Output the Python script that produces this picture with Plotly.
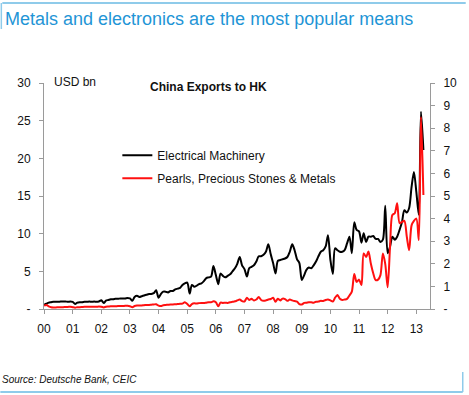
import pandas as pd
import plotly.graph_objects as go

# ---- data (monthly, Jan 2000 - Apr 2013) ----
months = pd.date_range("2000-01-01", periods=160, freq="MS")

electrical_machinery = [  # USD bn, left axis
    0.55, 0.7, 0.85, 0.9, 0.95, 0.95, 0.95, 1.0, 1.0, 1.0, 0.95, 1.0,      # 2000
    0.95, 0.66, 0.85, 0.9, 0.9, 0.95, 0.95, 1.0, 0.95, 1.0, 0.95, 1.0,     # 2001
    1.15, 0.8, 1.1, 1.2, 1.3, 1.3, 1.35, 1.35, 1.4, 1.4, 1.4, 1.45,        # 2002
    1.4, 1.1, 1.6, 1.75, 1.6, 1.7, 1.8, 1.9, 2.0, 2.0, 2.1, 2.5,           # 2003
    1.5, 2.0, 2.3, 2.3, 2.2, 2.4, 2.4, 2.6, 2.7, 2.8, 3.2, 3.4,            # 2004
    3.5, 2.05, 3.2, 2.95, 3.1, 3.3, 3.4, 3.7, 4.1, 4.2, 4.3, 5.7,          # 2005
    4.5, 3.3, 4.7, 4.4, 4.2, 4.4, 4.6, 5.0, 5.4, 6.0, 6.9, 5.8,            # 2006
    5.3, 4.3, 5.4, 5.6, 5.8, 6.3, 7.0, 7.0, 7.2, 7.6, 8.6, 7.3,            # 2007
    6.1, 4.7, 6.4, 6.5, 6.6, 6.7, 6.9, 7.6, 8.6, 7.8, 6.6, 6.1,            # 2008
    3.85, 4.5, 5.2, 5.5, 5.4, 5.8, 6.3, 7.0, 7.6, 7.8, 8.3, 9.8,           # 2009
    6.5, 4.65, 8.05, 7.8, 7.6, 7.6, 7.8, 8.7, 9.6, 7.4, 11.5, 10.5,        # 2010
    10.3, 8.8, 10.05, 8.9, 9.6, 9.6, 9.7, 9.3, 9.3, 8.9, 9.2, 13.7,        # 2011
    7.4, 8.3, 9.6, 9.2, 9.6, 10.5, 11.5, 13.1, 12.8, 13.4, 16.2, 18.2,     # 2012
    15.5, 12.5, 26.2, 21.1,                                                # 2013
]

pearls_stones_metals = [  # USD bn, right axis
    0.15, 0.18, 0.12, 0.08, 0.07, 0.07, 0.08, 0.08, 0.08, 0.09, 0.09, 0.1,   # 2000
    0.08, 0.06, 0.08, 0.08, 0.09, 0.1, 0.1, 0.1, 0.1, 0.1, 0.1, 0.11,        # 2001
    0.1, 0.07, 0.1, 0.11, 0.12, 0.12, 0.12, 0.13, 0.13, 0.13, 0.14, 0.14,    # 2002
    0.12, 0.08, 0.13, 0.15, 0.15, 0.16, 0.17, 0.18, 0.18, 0.19, 0.2, 0.21,   # 2003
    0.15, 0.13, 0.17, 0.18, 0.19, 0.2, 0.2, 0.21, 0.22, 0.23, 0.24, 0.3,     # 2004
    0.22, 0.12, 0.22, 0.25, 0.24, 0.26, 0.27, 0.26, 0.28, 0.3, 0.3, 0.34,    # 2005
    0.3, 0.12, 0.28, 0.27, 0.28, 0.27, 0.3, 0.32, 0.34, 0.38, 0.42, 0.35,    # 2006
    0.33, 0.5, 0.4, 0.45, 0.38, 0.42, 0.53, 0.4, 0.36, 0.38, 0.42, 0.44,     # 2007
    0.5, 0.32, 0.45, 0.38, 0.46, 0.44, 0.36, 0.42, 0.38, 0.35, 0.33, 0.22,   # 2008
    0.2, 0.27, 0.28, 0.3, 0.3, 0.28, 0.32, 0.33, 0.36, 0.35, 0.4, 0.42,      # 2009
    0.38, 0.33, 0.5, 0.62, 0.45, 0.4, 0.42, 0.45, 0.6, 0.77, 1.55, 1.2,      # 2010
    1.3, 1.06, 2.46, 2.3, 2.54, 2.0, 1.58, 1.28, 1.3, 1.5, 2.46, 2.0,        # 2011
    0.96, 2.8, 4.16, 4.24, 4.68, 3.8, 3.85, 3.9, 3.2, 2.6, 3.7, 3.9,         # 2012
    4.0, 3.05, 8.5, 5.04,                                                    # 2013
]

left_ticks = [0, 5, 10, 15, 20, 25, 30]
left_labels = ["-", "5", "10", "15", "20", "25", "30"]
right_ticks = list(range(0, 11))
right_labels = ["-"] + [str(v) for v in range(1, 11)]

series_names = ["Electrical Machinery", "Pearls, Precious Stones & Metals"]
title_text = "Metals and electronics are the most popular means"
chart_title = "China Exports to HK"
source_text = "Source: Deutsche Bank, CEIC"

FONT = "Liberation Sans, Arial, sans-serif"
AXIS_GREY = "#9a9a9a"
ACCENT = "#8fcbea"

fig = go.Figure()
fig.add_trace(go.Scatter(
    x=months, y=electrical_machinery, name=series_names[0], mode="lines",
    line=dict(color="#000000", width=2, shape="spline", smoothing=0.8),
    yaxis="y", legendgroup="a",
))
fig.add_trace(go.Scatter(
    x=months, y=pearls_stones_metals, name=series_names[1], mode="lines",
    line=dict(color="#ff1010", width=2, shape="spline", smoothing=0.8),
    yaxis="y2", legendgroup="b",
))

fig.update_layout(
    width=469, height=395,
    margin=dict(l=44, r=36, t=83, b=86),
    paper_bgcolor="white", plot_bgcolor="white",
    font=dict(family=FONT, size=12, color="#111111"),
    showlegend=True,
    legend=dict(x=0.19, y=0.745, xanchor="left", yanchor="top",
                bgcolor="rgba(0,0,0,0)", borderwidth=0,
                font=dict(size=12, color="#111111"), tracegroupgap=4),
    xaxis=dict(
        type="date", range=["2000-01-01", "2013-06-24"],
        tick0="2000-01-01", dtick="M12", tickformat="%y",
        showgrid=False, zeroline=False,
        showline=True, linecolor=AXIS_GREY, linewidth=1,
        ticks="outside", ticklen=4, tickcolor=AXIS_GREY,
        ticklabelstandoff=5,
        tickfont=dict(size=12, color="#111111"),
    ),
    yaxis=dict(
        range=[0, 30], tickvals=left_ticks, ticktext=left_labels,
        showgrid=False, zeroline=False,
        showline=True, linecolor=AXIS_GREY, linewidth=1,
        ticks="outside", ticklen=4, tickcolor=AXIS_GREY,
        ticklabelstandoff=6,
        tickfont=dict(size=12, color="#111111"),
    ),
    yaxis2=dict(
        range=[0, 10], tickvals=right_ticks, ticktext=right_labels,
        overlaying="y", side="right",
        showgrid=False, zeroline=False,
        showline=True, linecolor=AXIS_GREY, linewidth=1,
        ticks="outside", ticklen=4, tickcolor=AXIS_GREY,
        ticklabelstandoff=6,
        tickfont=dict(size=12, color="#111111"),
    ),
    annotations=[
        dict(text=title_text, xref="paper", yref="paper",
             x=-41 / 389, y=1 + (83 - 19) / 226, xanchor="left", yanchor="middle",
             showarrow=False, font=dict(size=18, color="#1f95d6", family=FONT)),
        dict(text="<b>" + chart_title + "</b>", xref="paper", yref="paper",
             x=(210 - 44) / 389, y=1 - (87 - 83) / 226, xanchor="center", yanchor="middle",
             showarrow=False, font=dict(size=12, color="#111111", family=FONT)),
        dict(text="USD bn", xref="paper", yref="paper",
             x=(52 - 44) / 389, y=1 + (83 - 82) / 226, xanchor="left", yanchor="middle",
             showarrow=False, font=dict(size=12, color="#111111", family=FONT)),
        dict(text="<i>" + source_text + "</i>", xref="paper", yref="paper",
             x=-44 / 389, y=-(379 - 309) / 226, xanchor="left", yanchor="middle",
             showarrow=False, font=dict(size=10, color="#111111", family=FONT)),
    ],
    shapes=[
        # top rule and left tab of the header
        dict(type="line", xref="paper", yref="paper",
             x0=-42 / 389, x1=(469 - 44) / 389,
             y0=1 + (83 - 3) / 226, y1=1 + (83 - 3) / 226,
             line=dict(color=ACCENT, width=2)),
        dict(type="line", xref="paper", yref="paper",
             x0=-43 / 389, x1=-43 / 389,
             y0=1 + (83 - 3) / 226, y1=1 + (83 - 29) / 226,
             line=dict(color=ACCENT, width=1.5)),
        # bottom rule and right tab of the footer
        dict(type="line", xref="paper", yref="paper",
             x0=-44 / 389, x1=(466 - 44) / 389,
             y0=-(392 - 309) / 226, y1=-(392 - 309) / 226,
             line=dict(color=ACCENT, width=2)),
        dict(type="line", xref="paper", yref="paper",
             x0=(466 - 44) / 389, x1=(466 - 44) / 389,
             y0=-(392 - 309) / 226, y1=-(372 - 309) / 226,
             line=dict(color=ACCENT, width=1.5)),
    ],
)

fig.write_html(
    "out.html",
    config={"displayModeBar": False},
    post_script="document.body.style.margin='0';document.body.style.overflow='hidden';",
)
